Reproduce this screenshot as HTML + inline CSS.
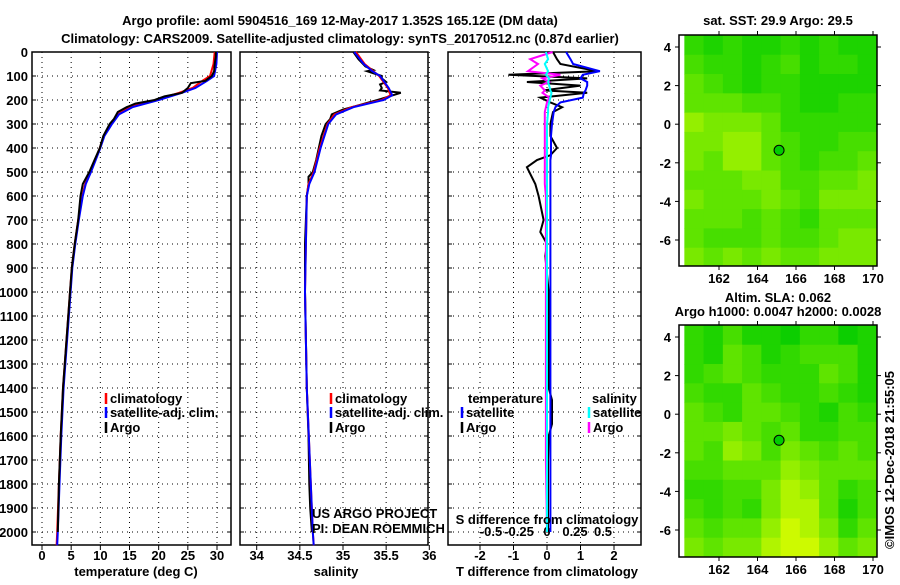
<!DOCTYPE html>
<html><head><meta charset="utf-8"><style>
body{margin:0;background:#fff;width:900px;height:580px;overflow:hidden}
svg text{font-family:"Liberation Sans",sans-serif;font-weight:bold;font-size:13px;fill:#000}
</style></head><body>
<svg id="chart" width="900" height="580" viewBox="0 0 900 580" xmlns="http://www.w3.org/2000/svg">
<text x="340" y="25" text-anchor="middle" font-size="14">Argo profile: aoml 5904516_169 12-May-2017 1.352S 165.12E (DM data)</text>
<text x="340" y="43" text-anchor="middle" font-size="14">Climatology: CARS2009. Satellite-adjusted climatology: synTS_20170512.nc (0.87d earlier)</text>
<text x="778" y="25" text-anchor="middle">sat. SST: 29.9 Argo: 29.5</text>
<text x="778" y="302" text-anchor="middle">Altim. SLA: 0.062</text>
<text x="778" y="316" text-anchor="middle">Argo h1000: 0.0047 h2000: 0.0028</text>
<text transform="translate(894,460) rotate(-90)" text-anchor="middle" font-weight="normal">©IMOS 12-Dec-2018 21:55:05</text>
<g id="g"></g>
</svg>
<script>
// ---- data ----
const tDepth=[0,20,50,80,100,120,130,150,170,185,200,215,230,250,280,300,350,400,450,500,550,600,700,800,900,1000,1200,1400,1600,1800,2000];
const tArgo=[29.8,29.8,29.6,29.5,29.1,28,25.5,25,24,21,19.3,16,14.5,13,12.3,11.6,10.5,9.9,9.0,8.1,7.0,6.6,6.2,5.6,5.1,4.8,4.2,3.6,3.2,2.9,2.7];
const cDepth=[0,50,100,120,150,170,200,230,260,300,350,400,450,500,550,600,700,800,900,1000,1200,1400,1600,1800,2000,2055];
const tClim=[29.6,29.4,28.8,27.5,25.8,23.5,19.5,15,13.0,11.8,10.6,9.9,9.1,8.3,7.4,6.9,6.2,5.6,5.1,4.8,4.2,3.6,3.2,2.9,2.6,2.5];
const tSat=[30.0,29.9,29.5,28.3,26.3,24,20,15.5,13.2,12.0,10.7,10.0,9.2,8.4,7.5,7.0,6.3,5.7,5.2,4.9,4.3,3.7,3.3,3.0,2.7,2.6];
const sDepth=[0,30,60,75,80,100,110,125,135,150,160,170,180,200,220,240,260,280,300,350,400,450,500,520,550,600,700,800,1000,1400,1600,1800,1900,2000];
const sArgo=[35.12,35.18,35.26,35.35,35.28,35.45,35.45,35.5,35.43,35.45,35.43,35.67,35.58,35.4,35.2,35.0,34.87,34.85,34.8,34.75,34.72,34.69,34.65,34.6,34.6,34.58,34.57,34.56,34.56,34.58,34.6,34.61,34.62,34.64];
const scDepth=[0,50,80,100,150,180,200,230,260,300,400,500,550,600,1000,1400,2000,2055];
const sClim=[35.15,35.25,35.35,35.42,35.52,35.55,35.45,35.1,34.9,34.82,34.73,34.66,34.6,34.58,34.56,34.58,34.65,34.66];
const sSat=[35.13,35.24,35.34,35.43,35.53,35.57,35.47,35.12,34.92,34.83,34.74,34.67,34.61,34.58,34.56,34.58,34.65,34.66];
const dDepth=[0,30,50,80,95,110,125,140,160,170,190,210,230,250,300,350,400,430,450,480,550,600,700,750,800,850,1000,1400,1450,1550,1600,1700,2000];
const dTArgo=[0.18,0.3,0.4,1.5,-1.15,1.2,-0.6,1.0,-0.1,1.2,-0.2,0.1,0.45,0.18,0.1,0.1,0.3,0.1,-0.3,-0.6,-0.35,-0.25,-0.1,-0.2,0,-0.05,0.05,0.05,0.15,0.15,0.05,0.03,0.03];
const dTSat=[0.57,0.7,0.78,1.58,1.07,1.0,1.2,1.2,1.15,1.1,1.07,0.4,0.25,0.2,0.15,0.12,0.12,0.12,0.1,0.1,0.1,0.1,0.1,0.1,0.1,0.1,0.1,0.1,0.1,0.1,0.1,0.1,0.1];
const dSArgo=[0.05,-0.15,-0.08,-0.17,0.12,-0.04,0.02,-0.06,-0.02,-0.04,0.02,0,-0.01,-0.02,-0.02,-0.02,-0.02,-0.02,-0.02,-0.02,-0.02,-0.01,-0.01,-0.01,-0.01,-0.01,-0.01,-0.01,-0.01,-0.01,-0.01,-0.01,0];
const dSSat=[-0.01,0.01,-0.02,0.01,-0.01,0.02,0.01,0.02,0.03,0.04,0.03,0.02,0.01,0.01,0,0,0,0,0,0,0,0,0,0,0,0,0,0,0,0,0,0,0];
const depthTicks=[0,100,200,300,400,500,600,700,800,900,1000,1100,1200,1300,1400,1500,1600,1700,1800,1900,2000];
const tTicks=[0,5,10,15,20,25,30];
const sTicks=[34,34.5,35,35.5,36];
const dTTicks=[-2,-1,0,1,2];
const dSTicks=[-0.5,-0.25,0,0.25,0.5];
const lonTicks=[162,164,166,168,170];
const latTicks=[4,2,0,-2,-4,-6];
const mapLons=[160.2,161.2,162.2,163.2,164.2,165.2,166.2,167.2,168.2,169.2];
const mapLats=[4.6,3.6,2.6,1.6,0.6,-0.4,-1.4,-2.4,-3.4,-4.4,-5.4,-6.4];
const sstGrid=[
[0.3,0.2,0.3,0.2,0.2,0.3,0.2,0.3,0.2,0.2],
[0.4,0.3,0.3,0.2,0.3,0.4,0.2,0.3,0.3,0.2],
[0.5,0.4,0.3,0.2,0.3,0.3,0.2,0.2,0.2,0.2],
[0.5,0.5,0.5,0.4,0.4,0.3,0.2,0.2,0.3,0.3],
[0.7,0.6,0.6,0.6,0.5,0.3,0.3,0.3,0.3,0.3],
[0.6,0.6,0.7,0.7,0.5,0.4,0.3,0.3,0.4,0.4],
[0.6,0.5,0.7,0.7,0.5,0.4,0.3,0.4,0.4,0.5],
[0.5,0.5,0.5,0.6,0.6,0.4,0.4,0.5,0.5,0.6],
[0.6,0.5,0.5,0.5,0.6,0.5,0.4,0.6,0.6,0.6],
[0.5,0.5,0.5,0.4,0.5,0.4,0.3,0.5,0.5,0.5],
[0.5,0.4,0.4,0.4,0.5,0.4,0.4,0.5,0.6,0.6],
[0.6,0.5,0.6,0.5,0.6,0.5,0.5,0.6,0.6,0.6]];
const slaGrid=[
[0.3,0.2,0.4,0.2,0.2,0.1,0.3,0.3,0.1,0.2],
[0.3,0.2,0.5,0.4,0.2,0.3,0.4,0.4,0.4,0.2],
[0.3,0.4,0.5,0.4,0.3,0.3,0.3,0.5,0.4,0.2],
[0.4,0.3,0.3,0.5,0.4,0.3,0.3,0.4,0.3,0.2],
[0.5,0.4,0.3,0.5,0.5,0.4,0.3,0.2,0.4,0.3],
[0.5,0.5,0.6,0.5,0.4,0.5,0.3,0.3,0.4,0.4],
[0.5,0.4,0.7,0.6,0.4,0.6,0.5,0.4,0.5,0.4],
[0.4,0.4,0.5,0.5,0.5,0.7,0.6,0.5,0.5,0.5],
[0.3,0.3,0.4,0.4,0.6,0.8,0.7,0.5,0.3,0.4],
[0.4,0.3,0.4,0.3,0.6,0.8,0.8,0.5,0.2,0.4],
[0.5,0.4,0.5,0.5,0.7,0.9,0.8,0.6,0.3,0.5],
[0.6,0.5,0.6,0.6,0.8,0.9,0.9,0.7,0.5,0.6]];
const argoLon=165.12, argoLat=-1.352;

// ---- drawing ----
const NS='http://www.w3.org/2000/svg';
const G=document.getElementById('g');
function mk(tag,attrs,parent){const e=document.createElementNS(NS,tag);for(const k in attrs)e.setAttribute(k,attrs[k]);(parent||G).appendChild(e);return e;}
const yD=d=>52+d*0.24;
const TOP=52,BOT=545;
function lin(v0,p0,v1,p1){return v=>p0+(v-v0)*(p1-p0)/(v1-v0);}
const xT=lin(0,42,30,217), xS=lin(34,256.7,35,343), xDT=lin(0,547,2,614), xDS=lin(0,547,0.5,603);

function panel(name,x0,x1,ticks,xf,fmt,showY){
  const g=mk('g',{});
  
  
  depthTicks.forEach(d=>{
    if(d>0){const l=mk('line',{x1:x0,x2:x1,y1:yD(d),y2:yD(d),stroke:'#000','stroke-width':1,'stroke-dasharray':'1,4'},g);
    
    }
    mk('line',{x1:x0,x2:x0+4,y1:yD(d),y2:yD(d),stroke:'#000'},g);
    mk('line',{x1:x1-4,x2:x1,y1:yD(d),y2:yD(d),stroke:'#000'},g);
    if(showY){const t=mk('text',{x:28,y:yD(d)+5,'text-anchor':'end'},g);t.textContent=d;
    
    }
  });
  ticks.forEach(v=>{const x=xf(v);
    const l=mk('line',{x1:x,x2:x,y1:TOP,y2:BOT,stroke:'#000','stroke-dasharray':'1,4'},g);
    
    
    mk('line',{x1:x,x2:x,y1:BOT,y2:BOT+5,stroke:'#000'},g);
    if(fmt){const t=mk('text',{x:x,y:560,'text-anchor':'middle'},g);t.textContent=fmt(v);
    
    }
  });
  const r=mk('rect',{x:x0,y:TOP,width:x1-x0,height:BOT-TOP,fill:'none',stroke:'#000','stroke-width':1.5},g);
  
  
  return g;
}
function series(name,depths,vals,xf,color,w){
  const pts=depths.map((d,i)=>xf(vals[i]).toFixed(1)+','+yD(d).toFixed(1)).join(' ');
  const p=mk('polyline',{points:pts,fill:'none',stroke:color,'stroke-width':w||2});
  
  
}
function txt(name,s,x,y,opt){const t=mk('text',Object.assign({x:x,y:y},opt||{}));t.textContent=s;
  
  return t;}
function legend(name,s,x,y,color){
  const g=mk('g',{});
  
  
  mk('line',{x1:x,x2:x,y1:y-10,y2:y+1,stroke:color,'stroke-width':2.5},g);
  const t=mk('text',{x:x+4,y:y},g);t.textContent=s;
}

panel('temperature-panel',32,231,tTicks,xT,v=>v,true);
panel('salinity-panel',240,428,sTicks,xS,v=>v,false);
panel('difference-panel',448,641,dTTicks,xDT,v=>v,false);
dSTicks.forEach(v=>{txt('s-diff-tick-label',String(v).replace(/^0\./,'0.'),xDS(v),536,{'text-anchor':'middle'});});

series('temp-climatology-line',cDepth,tClim,xT,'#f00');
series('temp-satellite-line',cDepth,tSat,xT,'#00f');
series('temp-argo-line',tDepth,tArgo,xT,'#000');
series('sal-argo-line',sDepth,sArgo,xS,'#000');
series('sal-climatology-line',scDepth,sClim,xS,'#f00');
series('sal-satellite-line',scDepth,sSat,xS,'#00f');
series('tdiff-argo-line',dDepth,dTArgo,xDT,'#000');
series('tdiff-satellite-line',dDepth,dTSat,xDT,'#00f');
series('sdiff-argo-line',dDepth,dSArgo,xDS,'#f0f');
series('sdiff-satellite-line',dDepth,dSSat,xDS,'#0ff');

txt('temperature-axis-title','temperature (deg C)',136,576,{'text-anchor':'middle'});
txt('salinity-axis-title','salinity',336,576,{'text-anchor':'middle'});
txt('t-diff-axis-title','T difference from climatology',547,576,{'text-anchor':'middle'});
txt('s-diff-axis-title','S difference from climatology',547,524,{'text-anchor':'middle'});
txt('us-argo-credit','US ARGO PROJECT',312,518,{'font-weight':'normal'});
txt('pi-credit','PI: DEAN ROEMMICH',312,533,{'font-weight':'normal'});

legend('legend-climatology','climatology',106,403,'#f00');
legend('legend-satellite','satellite-adj. clim.',106,417,'#00f');
legend('legend-argo','Argo',106,432,'#000');
legend('legend-sal-climatology','climatology',331,403,'#f00');
legend('legend-sal-satellite','satellite-adj. clim.',331,417,'#00f');
legend('legend-sal-argo','Argo',331,432,'#000');
txt('legend-temperature-header','temperature',468,403);
txt('legend-salinity-header','salinity',592,403);
legend('legend-t-satellite','satellite',462,417,'#00f');
legend('legend-t-argo','Argo',462,432,'#000');
legend('legend-s-satellite','satellite',589,417,'#0ff');
legend('legend-s-argo','Argo',589,432,'#f0f');

function col(v){const r=Math.round(Math.pow(v,1.3)*235),g=Math.round(200+v*55);return 'rgb('+r+','+g+',0)';}
function map(name,yTop,yBot,lat4,latm6,grid){
  const g=mk('g',{});
  
  
  const x0=679,x1=877;
  const xL=lin(162,719,170,873), yL=lin(4,lat4,-6,latm6);
  mapLats.forEach((la,i)=>mapLons.forEach((lo,j)=>{
    const xa=Math.max(x0,xL(lo)),xb=Math.min(x1,xL(lo+1)),ya=Math.max(yTop,yL(la)),yb=Math.min(yBot,yL(la-1));
    const c=mk('rect',{x:xa,y:ya,width:xb-xa+0.5,height:yb-ya+0.5,fill:col(grid[i][j])},g);
    
    
  }));
  const f=mk('rect',{x:x0,y:yTop,width:x1-x0,height:yBot-yTop,fill:'none',stroke:'#000','stroke-width':1.5},g);
  
  
  lonTicks.forEach(v=>{mk('line',{x1:xL(v),x2:xL(v),y1:yTop-4,y2:yTop,stroke:'#000'},g);
    mk('line',{x1:xL(v),x2:xL(v),y1:yBot,y2:yBot+4,stroke:'#000'},g);
    const t=mk('text',{x:xL(v),y:yBot+17,'text-anchor':'middle'},g);t.textContent=v;
    
    });
  latTicks.forEach(v=>{mk('line',{x1:x0-4,x2:x0,y1:yL(v),y2:yL(v),stroke:'#000'},g);
    mk('line',{x1:x1,x2:x1+4,y1:yL(v),y2:yL(v),stroke:'#000'},g);
    const t=mk('text',{x:x0-8,y:yL(v)+5,'text-anchor':'end'},g);t.textContent=v;
    
    });
  const c=mk('circle',{cx:xL(argoLon),cy:yL(argoLat),r:5,fill:'#0c0',stroke:'#000','stroke-width':1},g);
  
  
}
map('sst-map',35,266,47,240,sstGrid);
map('sla-map',325,557,337,530,slaGrid);
</script>
</body></html>
